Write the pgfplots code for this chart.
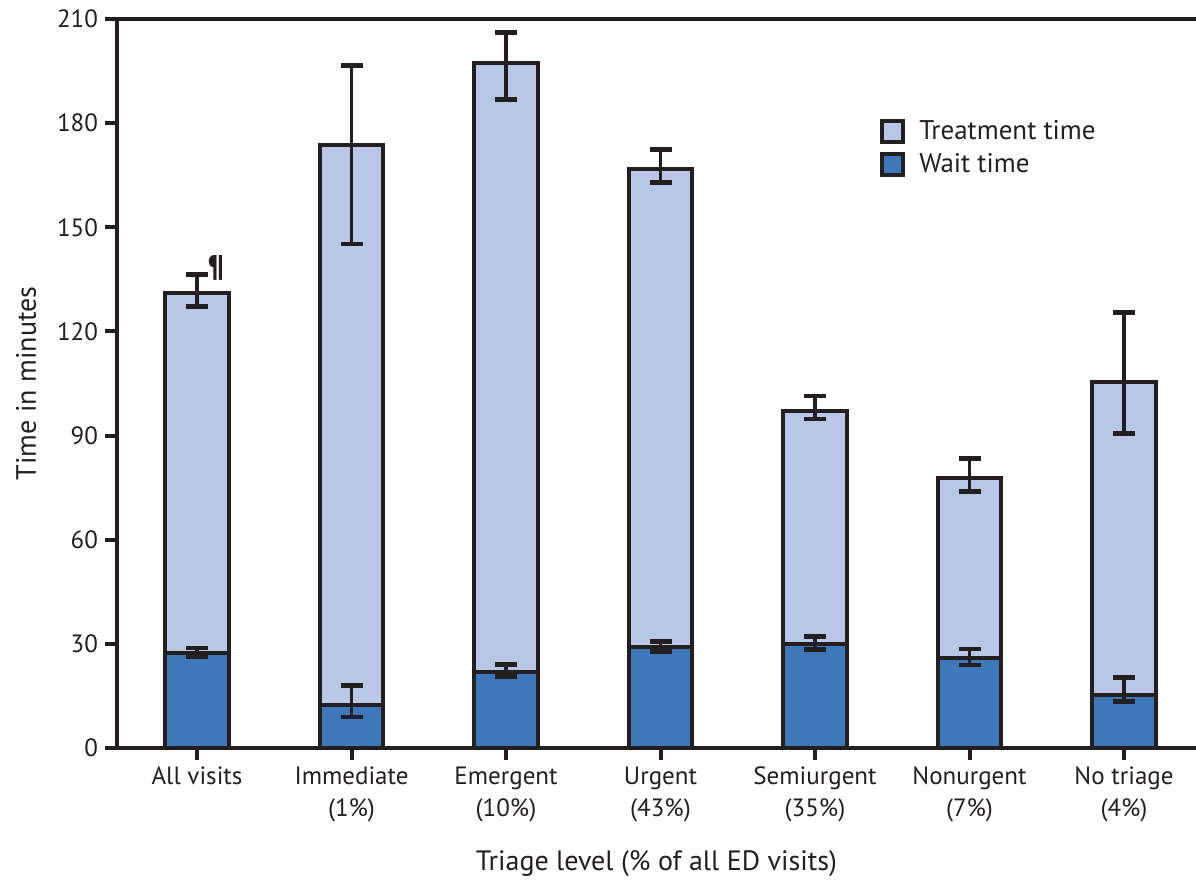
\documentclass[border=0pt]{standalone}
\usepackage{pgfplots}
\usepackage{pgfplotstable}
\pgfplotsset{compat=1.18}
\usepackage{fontspec}
\setmainfont{PT Sans}
\definecolor{treat}{HTML}{B8C7E6}
\definecolor{wait}{HTML}{3F78BA}
\definecolor{ink}{HTML}{231F20}

% total = wait + treatment time (top of stacked bar)
\pgfplotstableread{
x total ep em
0 131.1 5.2 4.0
1 173.7 22.8 28.5
2 197.4 8.6 10.6
3 166.8 5.5 4.0
4 97.2 4.2 2.4
5 77.8 5.5 4.0
6 105.3 20.1 14.6
}\totaltab
\pgfplotstableread{
x wait ep em
0 27.3 1.5 1.0
1 12.4 5.5 3.5
2 22.0 2.0 1.5
3 29.2 1.5 1.5
4 29.9 2.2 1.5
5 25.8 2.7 1.9
6 15.4 4.8 2.1
}\waittab

\begin{document}
\begin{tikzpicture}
\begin{axis}[
  scale only axis, width=539.5pt, height=364.5pt,
  xmin=-0.518, xmax=6.466, ymin=0, ymax=210,
  ybar, bar width=0.41, bar shift=0pt,
  axis x line=box, axis y line=left,
  axis line style={-, line width=2pt, draw=ink},
  x axis line style={-}, y axis line style={-},
  xtick={0,...,6},
  xticklabels={All visits, Immediate\\(1\%), Emergent\\(10\%), Urgent\\(43\%), Semiurgent\\(35\%), Nonurgent\\(7\%), No triage\\(4\%)},
  xticklabel style={align=center, font=\fontsize{12.5}{16}\selectfont, text=ink},
  ytick={0,30,...,210},
  yticklabel style={font=\fontsize{12.5}{15}\selectfont, text=ink},
  /pgf/number format/assume math mode=true,
  xtick pos=left, ytick pos=left,
  tick align=outside, major tick length=6pt,
  tick style={line width=2pt, draw=ink},
  xlabel={Triage level (\% of all ED visits)},
  ylabel={Time in minutes},
  xlabel style={at={(axis description cs:0.5,-0.159)}, anchor=center, font=\fontsize{14}{16}\selectfont, text=ink},
  ylabel style={at={(axis description cs:-0.0843,0.5)}, anchor=center, font=\fontsize{14}{16}\selectfont, text=ink},
  legend style={at={(rel axis cs:0.707,0.867)}, anchor=north west, draw=none, fill=none, inner sep=0pt,
    font=\fontsize{13.5}{16}\selectfont, text=ink, row sep=1.5pt, column sep=5pt},
  legend image code/.code={\draw[#1, line width=2pt, draw=ink] (0pt,-5.25pt) rectangle (10.5pt,5.25pt);},
  legend cell align=left,
]
\addplot[fill=treat, draw=ink, line width=2pt,
  error bars/.cd, y dir=both, y explicit,
  error bar style={line width=1.6pt, draw=ink},
  error mark options={rotate=90, line width=2.4pt, mark size=5.5pt, draw=ink}]
  table[x=x, y=total, y error plus=ep, y error minus=em] {\totaltab};
\addlegendentry{Treatment time}
\addplot[fill=wait, draw=ink, line width=2pt,
  error bars/.cd, y dir=both, y explicit,
  error bar style={line width=1.6pt, draw=ink},
  error mark options={rotate=90, line width=2.4pt, mark size=5.5pt, draw=ink}]
  table[x=x, y=wait, y error plus=ep, y error minus=em] {\waittab};
\addlegendentry{Wait time}
\node[anchor=base west, inner sep=0pt, font=\fontsize{15}{16}\selectfont\bfseries, text=ink] at (axis cs:0.07,135.7) {¶};
\end{axis}
\pgfresetboundingbox
\path[use as bounding box] (-58.5pt,-67pt) rectangle (539.5pt,374pt);
\end{tikzpicture}
\end{document}
